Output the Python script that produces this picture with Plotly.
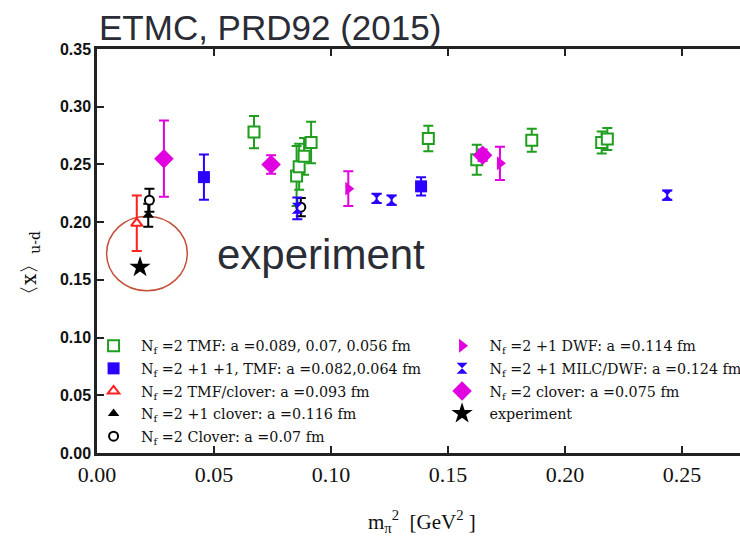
import plotly.graph_objects as go

# ---------------- data ----------------
tmf2_x = [0.0671, 0.0853, 0.0864, 0.0885, 0.0915, 0.1416, 0.1623, 0.1858, 0.2157, 0.2181]
tmf2_y = [0.278, 0.240, 0.248, 0.257, 0.269, 0.2725, 0.254, 0.271, 0.269, 0.272]
tmf2_e = [0.014, 0.026, 0.020, 0.016, 0.018, 0.011, 0.013, 0.010, 0.0095, 0.0096]

tmf211_x = [0.0457, 0.1385]
tmf211_y = [0.239, 0.231]
tmf211_e = [0.0196, 0.008]

tmfclov_x = [0.0170]
tmfclov_y = [0.199]
tmfclov_e = [0.024]

clov21_x = [0.0219]
clov21_y = [0.206]
clov21_e = [0.010]

clov2_x = [0.0224, 0.0871]
clov2_y = [0.219, 0.213]
clov2_e = [0.010, 0.008]

dwf_x = [0.1074, 0.1722]
dwf_y = [0.229, 0.251]
dwf_e = [0.015, 0.0144]

milc_x = [0.0856, 0.1195, 0.1259, 0.2437]
milc_y = [0.212, 0.2205, 0.219, 0.2234]
milc_e = [0.0094, 0.004, 0.004, 0.004]

clov075_x = [0.0286, 0.0744, 0.1648]
clov075_y = [0.255, 0.250, 0.258]
clov075_e = [0.033, 0.008, 0.005]

exp_x = [0.0184]
exp_y = [0.161]

x_ticks = [0.00, 0.05, 0.10, 0.15, 0.20, 0.25]
y_ticks = [0.00, 0.05, 0.10, 0.15, 0.20, 0.25, 0.30, 0.35]

# ---------------- styling ----------------
GREEN = "#1f9e1f"
BLUE = "#2b00ff"
MAGENTA = "#e000e0"
RED = "#ff2020"
BLACK = "#000000"

fig = go.Figure()


def add(name, xs, ys, errs, symbol, size, color, fill, legend, lw=2):
    ey = dict(type="data", array=errs, color=color, thickness=2, width=5, visible=True) if errs else dict(visible=False)
    fig.add_trace(go.Scatter(
        x=xs, y=ys, mode="markers", name=name, legend=legend, legendgroup=name,
        error_y=ey,
        marker=dict(symbol=symbol, size=size, color=fill, line=dict(color=color, width=lw)),
    ))


add("N<sub>f</sub> =2 TMF: a =0.089, 0.07, 0.056 fm", tmf2_x, tmf2_y, tmf2_e, "square", 11, GREEN, "white", "legend")
add("N<sub>f</sub> =2 +1 +1, TMF: a =0.082,0.064 fm", tmf211_x, tmf211_y, tmf211_e, "square", 12, BLUE, BLUE, "legend", 0)
add("N<sub>f</sub> =2 TMF/clover: a =0.093 fm", tmfclov_x, tmfclov_y, tmfclov_e, "triangle-up", 10, RED, "white", "legend")
add("N<sub>f</sub> =2 +1 clover: a =0.116 fm", clov21_x, clov21_y, clov21_e, "triangle-up", 10, BLACK, BLACK, "legend", 0)
add("N<sub>f</sub> =2 Clover: a =0.07 fm", clov2_x, clov2_y, clov2_e, "circle", 9, BLACK, "white", "legend")

add("N<sub>f</sub> =2 +1 DWF: a =0.114 fm", dwf_x, dwf_y, dwf_e, "triangle-right", 12, MAGENTA, MAGENTA, "legend2", 0)
add("N<sub>f</sub> =2 +1 MILC/DWF: a =0.124 fm", milc_x, milc_y, milc_e, "hourglass", 11, BLUE, BLUE, "legend2", 0)
add("N<sub>f</sub> =2 clover: a =0.075 fm", clov075_x, clov075_y, clov075_e, "diamond", 15, MAGENTA, MAGENTA, "legend2", 0)
add("experiment", exp_x, exp_y, None, "star", 16, BLACK, BLACK, "legend2", 0)

# highlight circle round the experimental point
fig.add_shape(type="circle", xref="x", yref="y", x0=0.0041, x1=0.0386, y0=0.1405, y1=0.2052,
              line=dict(color="#c4503a", width=1.5), layer="below")

legend_font = dict(family="DejaVu Serif", size=14.3, color="#111111")
fig.update_layout(
    width=740, height=538,
    margin=dict(l=97, r=0, t=49, b=85, autoexpand=False),
    paper_bgcolor="white", plot_bgcolor="white",
    showlegend=True,
    legend=dict(x=-0.017, y=0.3045, xanchor="left", yanchor="top",
                font=legend_font, itemwidth=45, bgcolor="rgba(0,0,0,0)", tracegroupgap=1),
    legend2=dict(x=0.525, y=0.3045, xanchor="left", yanchor="top",
                 font=legend_font, itemwidth=45, bgcolor="rgba(0,0,0,0)", tracegroupgap=1),
    xaxis=dict(range=[0, 0.2748], tickvals=x_ticks, ticktext=[f"{v:.2f}" for v in x_ticks],
               ticks="inside", ticklen=7, tickwidth=2, tickcolor="#222",
               showline=True, linewidth=2.5, linecolor="#222", mirror="ticks",
               showgrid=False, zeroline=False, automargin=False,
               tickfont=dict(family="Liberation Serif", size=22, color="#111")),
    yaxis=dict(range=[0, 0.35], tickvals=y_ticks, ticktext=[f"{v:.2f}" for v in y_ticks],
               ticks="inside", ticklen=7, tickwidth=2, tickcolor="#222",
               showline=True, linewidth=2.5, linecolor="#222", mirror=False,
               showgrid=False, zeroline=False, automargin=False,
               tickfont=dict(family="Liberation Sans", size=16, color="#111", weight="bold")),
)

fig.add_annotation(text="ETMC, PRD92 (2015)", xref="paper", yref="paper", x=0, y=1.0,
                   xanchor="left", yanchor="bottom", yshift=0, showarrow=False,
                   font=dict(family="Liberation Sans", size=35, color="#2a2d35"))
fig.add_annotation(text="experiment", xref="x", yref="y", x=0.0504, y=0.172,
                   xanchor="left", yanchor="middle", showarrow=False,
                   font=dict(family="Liberation Sans", size=42, color="#2a2d35"))
fig.add_annotation(text="m<sub>π</sub><sup>2</sup>  [GeV<sup>2</sup> ]", xref="paper", yref="paper",
                   x=0.505, y=-0.17, xanchor="center", yanchor="middle", showarrow=False,
                   font=dict(family="Liberation Serif", size=21, color="#111"))
fig.add_annotation(text="〈x〉<sub>u-d</sub>", xref="paper", yref="paper",
                   x=-0.104, y=0.458, xanchor="center", yanchor="middle", textangle=-90, showarrow=False,
                   font=dict(family="DejaVu Serif", size=20, color="#111"))

fig.write_html("out.html")
